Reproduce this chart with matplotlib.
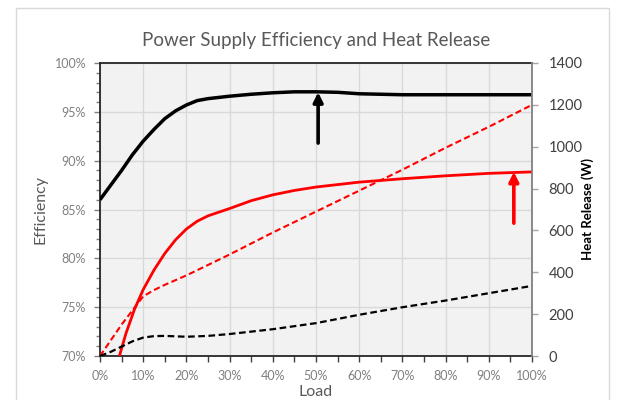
import matplotlib.pyplot as plt
from matplotlib.patches import Rectangle
from matplotlib.ticker import MultipleLocator, FuncFormatter

plt.rcParams["font.family"] = ["Lato", "DejaVu Sans"]

# efficiency curves (load %, efficiency %)
eff_black_load = [0, 2.5, 5, 7.5, 10, 12.5, 15, 17.5, 20, 22.5, 25, 30, 35,
                  40, 45, 50, 55, 60, 65, 70, 80, 90, 100]
eff_black = [86.0, 87.5, 89.0, 90.6, 92.0, 93.2, 94.3, 95.1, 95.7, 96.15,
             96.35, 96.6, 96.8, 96.95, 97.05, 97.05, 97.0, 96.85, 96.8,
             96.75, 96.75, 96.75, 96.75]

eff_red_load = [4.5, 6, 8, 10, 12.5, 15, 17.5, 20, 22.5, 25, 30, 35, 40, 45,
                50, 60, 70, 80, 90, 100]
eff_red = [70.0, 72.3, 74.8, 76.8, 78.8, 80.5, 81.9, 83.0, 83.8, 84.35, 85.1,
           85.9, 86.5, 86.95, 87.3, 87.8, 88.15, 88.45, 88.7, 88.85]

# heat release curves (load %, W)
heat_red_load = [0, 5, 10, 12.5, 15, 20, 30, 40, 50, 60, 70, 80, 90, 100]
heat_red = [0, 150, 285, 315, 340, 385, 485, 590, 690, 790, 890, 995, 1095,
            1200]

heat_black_load = [0, 2.5, 5, 7.5, 10, 12.5, 15, 20, 25, 30, 40, 50, 60, 70,
                   80, 90, 100]
heat_black = [0, 20, 45, 70, 88, 95, 96, 92, 96, 105, 128, 157, 197, 233,
              265, 300, 335]

# arrows marking the peak efficiency points
arrow_black = (50.5, 91.8, 97.0)
arrow_red = (95.8, 83.6, 88.85)

GRAY = "#808080"

fig = plt.figure(figsize=(6.18, 4.0), dpi=100)
fig.patches.append(Rectangle((0.026, -0.05), 0.959, 1.03,
                             transform=fig.transFigure, fill=False,
                             edgecolor="#d9d9d9", lw=1))

ax = fig.add_axes([0.1618, 0.11, 0.699, 0.7325])
ax.set_facecolor("#f2f2f2")
ax2 = ax.twinx()

ax.plot(eff_black_load, eff_black, color="black", lw=2.5,
        solid_capstyle="butt", zorder=3)
ax.plot(eff_red_load, eff_red, color="red", lw=2.0, zorder=3)
ax2.plot(heat_red_load, heat_red, color="red", lw=1.5, ls=(0, (3, 1.6)))
ax2.plot(heat_black_load, heat_black, color="black", lw=1.6,
         ls=(0, (3, 1.6)))

for (x, y0, y1), c in [(arrow_black, "black"), (arrow_red, "red")]:
    ax.annotate("", xy=(x, y1), xytext=(x, y0),
                arrowprops=dict(arrowstyle="-|>", color=c, lw=2.6,
                                mutation_scale=14, shrinkA=0, shrinkB=0),
                zorder=4)

ax.set_xlim(0, 100)
ax.set_ylim(70, 100)
ax2.set_ylim(0, 1400)

ax.xaxis.set_major_locator(MultipleLocator(10))
ax.xaxis.set_minor_locator(MultipleLocator(5))
ax.yaxis.set_major_locator(MultipleLocator(5))
ax.yaxis.set_minor_locator(MultipleLocator(1))
ax2.yaxis.set_major_locator(MultipleLocator(200))
ax.xaxis.set_major_formatter(FuncFormatter(lambda v, p: f"{v:.0f}%"))
ax.yaxis.set_major_formatter(FuncFormatter(lambda v, p: f"{v:.0f}%"))

ax.grid(True, which="major", color="#d9d9d9", lw=1)
ax.set_axisbelow(True)

ax.tick_params(axis="x", which="both", direction="out", length=4,
               width=1, color="#404040", labelsize=9, labelcolor=GRAY, pad=6)
ax.tick_params(axis="y", which="major", direction="out", length=4,
               width=1, color="#808080", labelsize=9, labelcolor=GRAY, pad=6)
ax.tick_params(axis="y", which="minor", direction="out", length=3,
               width=1, color="#808080")
ax2.tick_params(axis="y", direction="out", length=4, width=1,
                color="#a6a6a6", labelsize=10.5, labelcolor="#404040", pad=8)

for s in ["top", "left", "bottom"]:
    ax.spines[s].set_color("#262626")
    ax.spines[s].set_linewidth(1.3)
ax.spines["right"].set_visible(False)
for s in ["top", "left", "bottom"]:
    ax2.spines[s].set_visible(False)
ax2.spines["right"].set_color("#808080")
ax2.spines["right"].set_linewidth(1.3)

ax.set_xlabel("Load", fontsize=11.5, color="#595959", labelpad=2)
ax.set_ylabel("Efficiency", fontsize=11.5, color="#595959", labelpad=5)
ax2.set_ylabel("Heat Release (W)", fontsize=9.5, fontweight="bold",
               color="black", labelpad=-1)
ax.set_title("Power Supply Efficiency and Heat Release", fontsize=13.5,
             color="#595959", pad=12)

fig.savefig("out.png", dpi=100)
